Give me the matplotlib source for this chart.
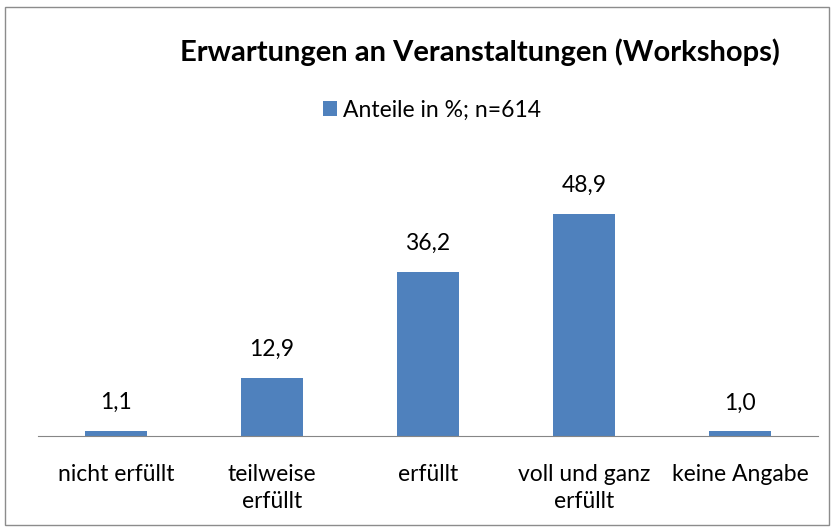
import matplotlib.pyplot as plt
from matplotlib.patches import Rectangle

plt.rcParams['font.family'] = ['Lato', 'DejaVu Sans']

categories = ["nicht erfüllt", "teilweise\nerfüllt", "erfüllt", "voll und ganz\nerfüllt", "keine Angabe"]
values = [1.1, 12.9, 36.2, 48.9, 1.0]
series_name = "Anteile in %; n=614"
title = "Erwartungen an Veranstaltungen (Workshops)"

bar_color = "#4F81BD"

fig = plt.figure(figsize=(8.34, 5.32), dpi=100)
# Rahmen um das Diagramm
fig.patches.append(Rectangle((5 / 834, 7 / 532), 824 / 834, 518 / 532, transform=fig.transFigure,
                             fill=False, edgecolor="#8c8c8c", linewidth=1.0))

ax = fig.add_axes([38 / 834, 96 / 532, 780 / 834, 272 / 532])
x = range(len(categories))
bars = ax.bar(x, values, width=0.4, color=bar_color, label=series_name)

for b, v in zip(bars, values):
    ax.annotate(f"{v:.1f}".replace(".", ","), xy=(b.get_x() + b.get_width() / 2, v),
                xytext=(0, 13), textcoords="offset points", ha="center", va="bottom", fontsize=16.5)

ax.set_xlim(-0.5, len(categories) - 0.5)
ax.set_ylim(0, 60)
ax.set_xticks(list(x))
ax.set_xticklabels(categories, fontsize=16.5, linespacing=1.35)
ax.tick_params(axis="x", length=0, pad=20)
ax.set_yticks([])
for s in ["top", "right", "left"]:
    ax.spines[s].set_visible(False)
ax.spines["bottom"].set_color("#868686")

fig.text(480 / 834, 1 - 52 / 532, title, ha="center", va="center", fontsize=21, fontweight="bold")
fig.legend(handles=[bars], labels=[series_name], loc="center", bbox_to_anchor=(432 / 834, 1 - 110 / 532),
           frameon=False, fontsize=16.5, handlelength=0.6, handleheight=0.6, handletextpad=0.25)

fig.savefig("out.png", dpi=100)
